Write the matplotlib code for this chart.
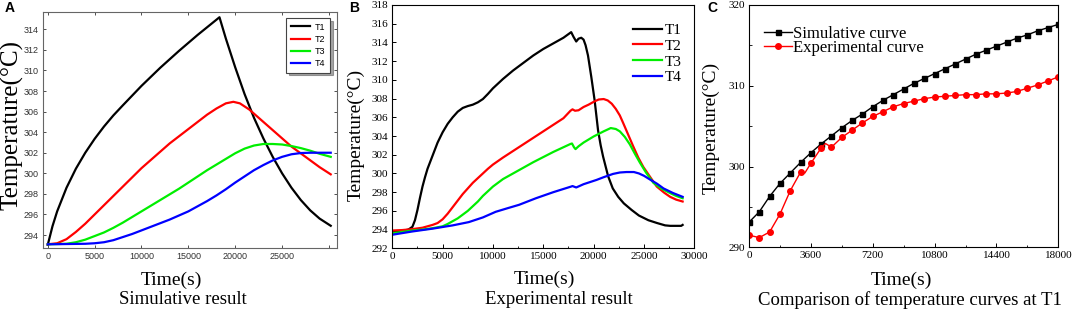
import matplotlib
matplotlib.use("Agg")
import matplotlib.pyplot as plt
from matplotlib.ticker import MultipleLocator

# ---------------- Data ----------------
# Panel A: simulative result
a_t1_x = [0, 500, 1000, 2000, 3000, 4000, 5000, 6000, 7000, 8000, 10000, 12000, 14000, 16000, 18320,
          19000, 20000, 21000, 22000, 23000, 24000, 25000, 26000, 27000, 28000, 29000, 30190]
a_t1_y = [293.05, 294.85, 296.3, 298.6, 300.45, 302.0, 303.35, 304.55, 305.63, 306.6, 308.5, 310.26,
          311.9, 313.46, 315.17, 313.1, 310.3, 307.7, 305.4, 303.4, 301.6, 300.0, 298.6, 297.4, 296.4,
          295.6, 294.9]
a_t2_x = [0, 1000, 2000, 3000, 4000, 5000, 6000, 7000, 8000, 9000, 10000, 11000, 12000, 13000, 14000,
          15000, 16000, 17000, 18000, 19000, 19800, 20500, 21500, 23000, 24500, 26000, 27500, 29000,
          30190]
a_t2_y = [293.1, 293.2, 293.6, 294.3, 295.1, 296.0, 296.9, 297.8, 298.7, 299.6, 300.5, 301.3, 302.1,
          302.9, 303.6, 304.3, 305.0, 305.7, 306.3, 306.8, 306.95, 306.8, 306.2, 305.0, 303.8, 302.6,
          301.6, 300.6, 299.9]
a_t3_x = [0, 2000, 3000, 4000, 5000, 6000, 7000, 8000, 9000, 10000, 11000, 12000, 13000, 14000,
          15000, 16000, 17000, 18000, 19000, 20000, 21000, 22000, 23000, 24000, 25000, 26000, 27000,
          28000, 29000, 30190]
a_t3_y = [293.1, 293.15, 293.3, 293.55, 293.9, 294.25, 294.7, 295.2, 295.75, 296.3, 296.85, 297.4,
          297.95, 298.5, 299.1, 299.7, 300.3, 300.85, 301.4, 301.95, 302.4, 302.7, 302.85, 302.85,
          302.8, 302.65, 302.45, 302.2, 301.9, 301.6]
a_t4_x = [0, 4000, 5000, 6000, 7000, 8000, 9000, 10000, 11000, 12000, 13000, 14000, 15000, 16000,
          17000, 18000, 19000, 20000, 21000, 22000, 23000, 24000, 25000, 26000, 27000, 28000, 30190]
a_t4_y = [293.1, 293.15, 293.2, 293.3, 293.5, 293.8, 294.1, 294.45, 294.8, 295.15, 295.5, 295.9,
          296.3, 296.8, 297.3, 297.85, 298.45, 299.1, 299.7, 300.3, 300.8, 301.25, 301.6, 301.85,
          301.97, 302.0, 302.0]

# Panel B: experimental result
b_t1_x = [0, 1000, 1600, 2000, 2250, 2500, 2750, 3000, 3250, 3500, 4000, 4500, 5000, 5500, 6000,
          6500, 7000, 7500, 8000, 8500, 9000, 9500, 10000, 11000, 12000, 13000, 14000, 15000, 16000,
          17000, 17770, 18000, 18270, 18500, 18770, 19000, 19200, 19440, 19770, 20100, 20440, 20700,
          20940, 21440, 21900, 22440, 23000, 23770, 24500, 25440, 26300, 27100, 27600, 28700, 28840]
b_t1_y = [293.7, 293.85, 294.0, 294.3, 295.0, 296.1, 297.4, 298.6, 299.6, 300.5, 301.9, 303.3, 304.4,
          305.3, 306.0, 306.6, 307.0, 307.2, 307.35, 307.6, 307.95, 308.5, 309.1, 310.1, 311.0, 311.8,
          312.6, 313.3, 313.9, 314.5, 315.1, 314.6, 314.1, 314.4, 314.5, 314.3, 313.7, 312.6, 310.3,
          307.8, 304.6, 303.0, 301.8, 299.7, 298.4, 297.5, 296.8, 296.1, 295.5, 295.0, 294.7, 294.45,
          294.4, 294.4, 294.5]
b_t2_x = [0, 1000, 2000, 3000, 3500, 4000, 4500, 5000, 5500, 6000, 6500, 7000, 7500, 8000, 8500,
          9000, 9500, 10000, 11000, 12000, 13000, 14000, 15000, 16000, 17000, 17700, 17900, 18150,
          18500, 19000, 19500, 20000, 20500, 21000, 21400, 21800, 22200, 22600, 22930, 23430, 23930,
          24430, 24930, 25500, 26270, 27000, 27600, 28200, 28840]
b_t2_y = [293.9, 293.95, 294.05, 294.2, 294.35, 294.5, 294.7, 295.1, 295.7, 296.4, 297.1, 297.8,
          298.4, 299.0, 299.5, 300.0, 300.5, 300.95, 301.7, 302.4, 303.1, 303.8, 304.5, 305.2, 305.9,
          306.7, 306.85, 306.7, 306.75, 307.1, 307.35, 307.65, 307.9, 307.95, 307.8, 307.45, 306.9,
          306.2, 305.4, 304.15, 302.9, 301.7, 300.7, 299.8, 298.6, 297.95, 297.5, 297.2, 297.0]
b_t3_x = [0, 1000, 2000, 3000, 4000, 5000, 5500, 6000, 6500, 7000, 7500, 8000, 8500, 9000, 9500,
          10000, 11000, 12000, 13000, 14000, 15000, 16000, 17000, 17700, 17850, 18050, 18200, 18500,
          19000, 20000, 21000, 21700, 22200, 22600, 23100, 23600, 24100, 24600, 25200, 25930, 26700,
          27600, 28200, 28840]
b_t3_y = [293.6, 293.75, 293.9, 294.0, 294.15, 294.35, 294.6, 294.9, 295.2, 295.6, 296.0, 296.5,
          297.0, 297.6, 298.1, 298.6, 299.4, 300.0, 300.6, 301.2, 301.75, 302.3, 302.8, 303.15, 303.2,
          302.8, 302.6, 302.9, 303.3, 303.95, 304.5, 304.85, 304.75, 304.5, 303.9, 303.1, 302.1,
          301.15, 300.1, 299.0, 298.4, 297.9, 297.6, 297.35]
b_t4_x = [0, 2000, 4000, 6000, 7600, 9000, 10270, 11500, 12600, 14270, 16000, 17770, 17900, 18270,
          19000, 20270, 21000, 21930, 22600, 23270, 24000, 24500, 25000, 25600, 26300, 26940, 27900,
          28840]
b_t4_y = [293.45, 293.8, 294.1, 294.45, 294.8, 295.3, 295.9, 296.3, 296.65, 297.35, 298.0, 298.6,
          298.65, 298.5, 298.85, 299.3, 299.6, 299.95, 300.1, 300.15, 300.15, 300.0, 299.75, 299.35,
          298.9, 298.4, 297.9, 297.5]

# Panel C: comparison at T1
c_time = list(range(0, 18001, 600))
c_sim = [293.1, 294.4, 296.3, 297.9, 299.2, 300.5, 301.7, 302.8, 303.8, 304.8, 305.7, 306.5, 307.4,
         308.2, 308.9, 309.6, 310.3, 310.9, 311.5, 312.1, 312.7, 313.3, 313.9, 314.4, 314.9, 315.4,
         315.9, 316.3, 316.8, 317.2, 317.6]
c_exp = [291.5, 291.2, 291.9, 294.1, 297.0, 299.3, 300.4, 302.3, 302.4, 303.6, 304.5, 305.4, 306.2,
         306.8, 307.4, 307.8, 308.1, 308.4, 308.6, 308.7, 308.8, 308.9, 308.9, 309.0, 309.0, 309.1,
         309.3, 309.7, 310.1, 310.6, 311.1]
# extra (unmarked) points of the measured trace
c_exp_extra_t = [3250, 4450]
c_exp_extra_y = [299.2, 302.85]

series_labels = ["T1", "T2", "T3", "T4"]
series_colors = ["#000000", "#ff0000", "#00ee00", "#0000ff"]

# ---------------- Figure ----------------
W, H = 1072, 311
fig = plt.figure(figsize=(W / 100, H / 100), dpi=100)
SERIF = "Liberation Serif"
SANS = "Liberation Sans"


def ax_rect(l, r, t, b):
    return [l / W, (H - b) / H, (r - l) / W, (b - t) / H]


# ---- Panel A ----
axA = fig.add_axes(ax_rect(43, 337, 11.7, 248.3))
for xs, ys, lab, col in zip([a_t1_x, a_t2_x, a_t3_x, a_t4_x], [a_t1_y, a_t2_y, a_t3_y, a_t4_y],
                            series_labels, series_colors):
    axA.plot(xs, ys, color=col, lw=1.6, label=lab, solid_joinstyle="round")
axA.set_xlim(-510, 30860)
axA.set_ylim(292.71, 315.71)
axA.set_xticks([0, 5000, 10000, 15000, 20000, 25000, 30000])
axA.set_xticklabels(["0", "5000", "10000", "15000", "20000", "25000", ""])
axA.set_yticks(list(range(294, 315, 2)))
axA.tick_params(direction="in", length=2.5, width=0.6, top=True, right=True,
                labelsize=6.5, colors="#333333", pad=3)
for lab in axA.get_xticklabels() + axA.get_yticklabels():
    lab.set_family(SANS)
for s in axA.spines.values():
    s.set_color("#666666")
    s.set_linewidth(0.8)
legA = axA.legend(loc="upper right", bbox_to_anchor=(0.976, 0.973), borderaxespad=0,
                  prop={"family": SANS, "size": 6.5}, handlelength=2.2, handletextpad=0.5,
                  labelspacing=0.35, fancybox=False, shadow=True, framealpha=1,
                  edgecolor="#444444", borderpad=0.5)
legA.get_frame().set_linewidth(0.8)

# ---- Panel B ----
axB = fig.add_axes(ax_rect(392.3, 694.3, 5, 248.3))
for xs, ys, lab, col in zip([b_t1_x, b_t2_x, b_t3_x, b_t4_x], [b_t1_y, b_t2_y, b_t3_y, b_t4_y],
                            series_labels, series_colors):
    axB.plot(xs, ys, color=col, lw=1.6, label=lab, solid_joinstyle="round")
axB.set_xlim(0, 30000)
axB.set_ylim(292, 318)
axB.xaxis.set_major_locator(MultipleLocator(5000))
axB.xaxis.set_minor_locator(MultipleLocator(2500))
axB.yaxis.set_major_locator(MultipleLocator(2))
axB.tick_params(which="major", direction="in", length=3, width=0.7, labelsize=8, pad=3)
axB.tick_params(which="minor", direction="in", length=1.8, width=0.6)
for lab in axB.get_xticklabels() + axB.get_yticklabels():
    lab.set_family(SERIF)
for s in axB.spines.values():
    s.set_linewidth(0.8)
axB.legend(loc="upper left", bbox_to_anchor=(0.798, 0.925), borderaxespad=0, borderpad=0,
           prop={"family": SERIF, "size": 11}, handlelength=1.9, handletextpad=0.15,
           labelspacing=0.14, frameon=False)

# ---- Panel C ----
axC = fig.add_axes(ax_rect(749, 1058.3, 5, 247.3))
axC.plot(c_time, c_sim, color="black", lw=1.0, marker="s", ms=3.6, label="Simulative curve")
# measured trace: markers at the regular samples, line through all samples
exp_t = c_time + c_exp_extra_t
exp_y = c_exp + c_exp_extra_y
order = sorted(range(len(exp_t)), key=lambda i: exp_t[i])
exp_t = [exp_t[i] for i in order]
exp_y = [exp_y[i] for i in order]
mark_idx = [i for i, t in enumerate(exp_t) if t in c_time]
axC.plot(exp_t, exp_y, color="#ff0000", lw=1.0, marker="o", ms=4.0, markevery=mark_idx,
         label="Experimental curve")
axC.set_xlim(0, 18000)
axC.set_ylim(290, 320)
axC.xaxis.set_major_locator(MultipleLocator(3600))
axC.xaxis.set_minor_locator(MultipleLocator(1800))
axC.yaxis.set_major_locator(MultipleLocator(10))
axC.yaxis.set_minor_locator(MultipleLocator(5))
axC.tick_params(which="major", direction="in", length=3, width=0.7, labelsize=8, pad=3)
axC.tick_params(which="minor", direction="in", length=1.8, width=0.6)
for lab in axC.get_xticklabels() + axC.get_yticklabels():
    lab.set_family(SERIF)
for s in axC.spines.values():
    s.set_linewidth(0.8)
axC.legend(loc="upper left", bbox_to_anchor=(0.05, 0.915), borderaxespad=0, borderpad=0,
           prop={"family": SERIF, "size": 12}, handlelength=1.65, handletextpad=0.05,
           labelspacing=-0.12, frameon=False)

# ---- Texts ----
def ftext(x, y, s, **kw):
    fig.text(x / W, 1 - y / H, s, **kw)

# panel letters
ftext(5, 8, "A", fontsize=10, fontweight="bold", family=SANS, va="center", ha="left")
ftext(349, 8, "B", fontsize=10, fontweight="bold", family=SANS, va="center", ha="left")
ftext(707, 8, "C", fontsize=10, fontweight="bold", family=SANS, va="center", ha="left")

# y labels
ftext(12, 125, "Temperature(°C)", fontsize=18, family=SERIF, rotation=90, va="center", ha="center")
ftext(356, 135, "Temperature(°C)", fontsize=14, family=SERIF, rotation=90, va="center", ha="center")
ftext(711, 128, "Temperature(°C)", fontsize=14, family=SERIF, rotation=90, va="center", ha="center")

# x labels and captions
ftext(171, 280, "Time(s)", fontsize=14, family=SERIF, va="center", ha="center")
ftext(182.5, 299, "Simulative result", fontsize=13.5, family=SERIF, va="center", ha="center")
ftext(544, 279, "Time(s)", fontsize=14, family=SERIF, va="center", ha="center")
ftext(558.5, 300, "Experimental result", fontsize=13.5, family=SERIF, va="center", ha="center")
ftext(901, 280, "Time(s)", fontsize=14, family=SERIF, va="center", ha="center")
ftext(910, 300, "Comparison of temperature curves at T1", fontsize=13.5, family=SERIF,
      va="center", ha="center")

fig.savefig("out.png", dpi=100)
